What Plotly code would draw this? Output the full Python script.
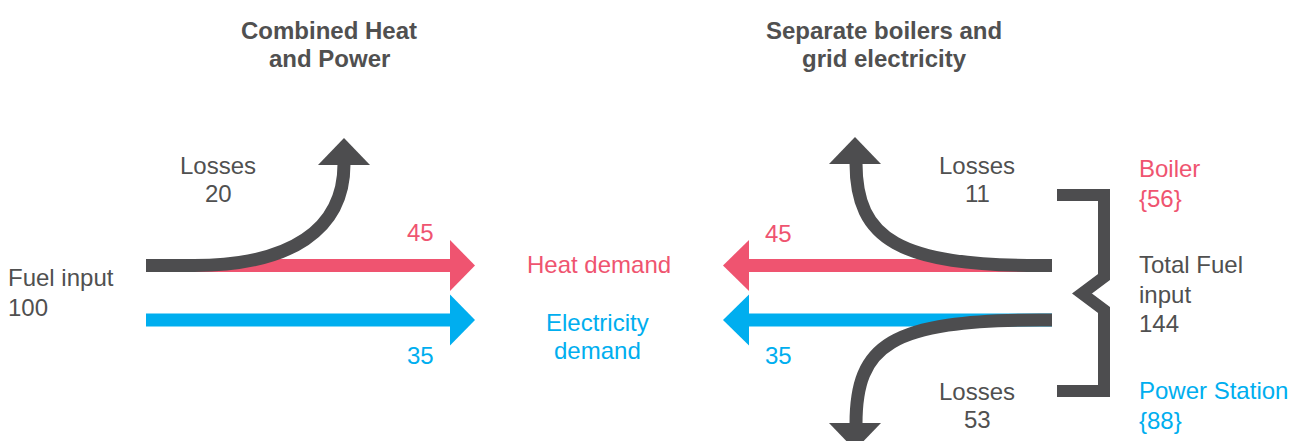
import plotly.graph_objects as go

# ---------------- data ----------------
panel_titles = ["Combined Heat<br>and Power", "Separate boilers and<br>grid electricity"]
chp_fuel_input = 100
chp_flow_names = ["Losses", "Heat", "Electricity"]
chp_flow_values = [20, 45, 35]
sep_flow_names = ["Losses (boiler)", "Heat", "Electricity", "Losses (power station)"]
sep_flow_values = [11, 45, 35, 53]
sep_source_names = ["Boiler", "Power Station"]
sep_source_values = [56, 88]
sep_total_fuel = 144
demand_labels = ["Heat demand", "Electricity<br>demand"]

# ---------------- styles ----------------
GREY = "#4d4d4f"
TEXT_GREY = "#505050"
PINK = "#ef5470"
BLUE = "#00aeef"
W, H = 1304, 441
LW = 13
FONT = "Liberation Sans, Arial, sans-serif"
FS = 24

fig = go.Figure()
fig.update_layout(
    width=W, height=H, margin=dict(l=0, r=0, t=0, b=0),
    paper_bgcolor="white", plot_bgcolor="white", showlegend=False,
    xaxis=dict(range=[0, W], visible=False, fixedrange=True),
    yaxis=dict(range=[H, 0], visible=False, fixedrange=True),
)

def line(path, color):
    fig.add_shape(type="path", path=path, xref="x", yref="y",
                  line=dict(color=color, width=LW), fillcolor="rgba(0,0,0,0)")

def tri(pts, color):
    p = "M " + " L ".join(f"{x},{y}" for x, y in pts) + " Z"
    fig.add_shape(type="path", path=p, xref="x", yref="y",
                  line=dict(width=0), fillcolor=color)

def text(x, y, s, color=TEXT_GREY, size=FS, anchor="center", bold=False):
    if bold:
        s = f"<b>{s}</b>"
    fig.add_annotation(x=x, y=y, xref="x", yref="y", text=s, showarrow=False,
                       xanchor=anchor, yanchor="middle",
                       font=dict(family=FONT, size=size, color=color))

# ---------------- layout geometry ----------------
yH, yE = 265.5, 320          # heat / electricity lanes
L0, L_head = 146, 450        # left diagram start, arrow-head base
R0, R_head = 1052, 749       # right diagram start, arrow-head base

# ---- Left: CHP ----
line(f"M {L0},{yH} L {L_head},{yH}", PINK)
tri([(L_head, yH - 25.5), (L_head, yH + 25.5), (L_head + 25, yH)], PINK)
line(f"M {L0},{yE} L {L_head},{yE}", BLUE)
tri([(L_head, yE - 25.5), (L_head, yE + 25.5), (L_head + 25, yE)], BLUE)
line(f"M {L0},{yH} L 194,{yH} C 290,{yH} 344,230 344,164", GREY)
tri([(318, 165), (370, 165), (344, 138)], GREY)

# ---- Right: separate ----
line(f"M {R0},{yH} L {R_head},{yH}", PINK)
tri([(R_head, yH - 25.5), (R_head, yH + 25.5), (R_head - 26, yH)], PINK)
line(f"M {R0},{yE} L {R_head},{yE}", BLUE)
tri([(R_head, yE - 25.5), (R_head, yE + 25.5), (R_head - 26, yE)], BLUE)
line(f"M {R0},{yH} L 1040,{yH} C 900,{yH} 856,240 856,163", GREY)
tri([(829, 164), (881, 164), (855, 137)], GREY)
line(f"M {R0},{yE} L 1040,{yE} C 890,{yE} 856,345 856,424", GREY)
tri([(829, 423), (881, 423), (855, 450)], GREY)

# bracket
fig.add_shape(type="path",
              path="M 1057,195 L 1104,195 L 1104,277 L 1082,293.5 L 1104,310 L 1104,391 L 1057,391",
              xref="x", yref="y", line=dict(color=GREY, width=12),
              fillcolor="rgba(0,0,0,0)")

# ---------------- text ----------------
for cx, t in zip([329, 884], panel_titles):
    a, b = t.split("<br>")
    text(cx, 30, a, bold=True, size=24)
    text(cx, 58, b, bold=True, size=24)

text(6, 277, "Fuel input", anchor="left")
text(6, 307, str(chp_fuel_input), anchor="left")
text(218, 165, chp_flow_names[0])
text(218, 193, str(chp_flow_values[0]))
text(420, 232, str(chp_flow_values[1]), color=PINK)
text(420, 355, str(chp_flow_values[2]), color=BLUE)

text(599, 264, demand_labels[0], color=PINK)
e1, e2 = demand_labels[1].split("<br>")
text(597, 322, e1, color=BLUE)
text(597, 350, e2, color=BLUE)

text(778, 233, str(sep_flow_values[1]), color=PINK)
text(778, 355, str(sep_flow_values[2]), color=BLUE)
text(977, 165, "Losses")
text(977, 193, str(sep_flow_values[0]))
text(977, 391, "Losses")
text(977, 419, str(sep_flow_values[3]))

text(1137, 168, sep_source_names[0], color=PINK, anchor="left")
text(1137, 198, "{" + str(sep_source_values[0]) + "}", color=PINK, anchor="left")
text(1137, 264, "Total Fuel", anchor="left")
text(1137, 294, "input", anchor="left")
text(1137, 323, str(sep_total_fuel), anchor="left")
text(1137, 390, sep_source_names[1], color=BLUE, anchor="left")
text(1137, 420, "{" + str(sep_source_values[1]) + "}", color=BLUE, anchor="left")

fig.write_html("out.html", config={"displayModeBar": False, "staticPlot": True},
               post_script="document.body.style.margin='0';document.body.style.overflow='hidden';")
